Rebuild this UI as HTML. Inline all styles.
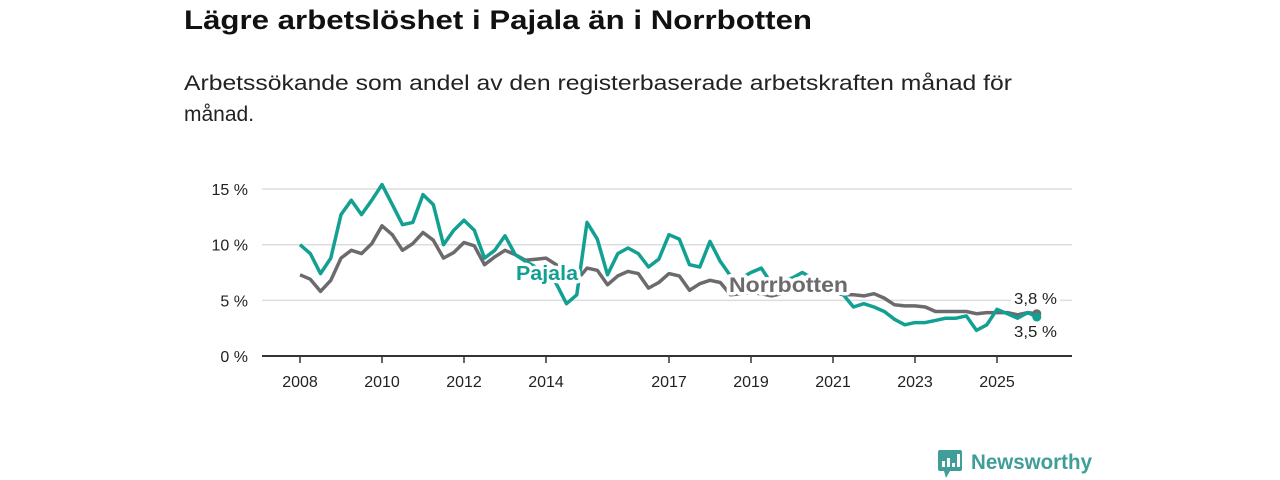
<!DOCTYPE html>
<html><head><meta charset="utf-8"><style>
html,body{margin:0;padding:0;background:#fff;}
svg{display:block;font-family:"Liberation Sans",sans-serif;}
</style></head><body>
<svg id="chart" width="1280" height="480" viewBox="0 0 1280 480" xmlns="http://www.w3.org/2000/svg">
<text x="184" y="29" font-size="27" font-weight="bold" fill="#111" textLength="628" lengthAdjust="spacingAndGlyphs">Lägre arbetslöshet i Pajala än i Norrbotten</text>
<text x="184" y="90" font-size="21" fill="#222" textLength="828" lengthAdjust="spacingAndGlyphs">Arbetssökande som andel av den registerbaserade arbetskraften månad för</text>
<text x="184" y="121" font-size="21" fill="#222">månad.</text>
<g id="grid"></g><g id="xaxis"></g><g id="series"></g><g id="labels"></g>
<g>
<rect x="938" y="450" width="24" height="21" rx="2" fill="#3f9e97"/>
<polygon points="944,471 950,471 946,478" fill="#3f9e97"/>
<rect x="942" y="461" width="3" height="6" fill="#fff"/><rect x="947" y="458" width="3" height="9" fill="#fff"/><rect x="952" y="463" width="3" height="4" fill="#fff"/><rect x="957" y="454" width="3" height="13" fill="#fff"/>
<text x="971" y="469" font-size="21" font-weight="bold" fill="#3f9e97" textLength="121" lengthAdjust="spacingAndGlyphs">Newsworthy</text>
</g>
</svg>
<script>
const dates=[];for(let i=0;i<72;i++)dates.push(2008+i*0.25);dates.push(2025.97);
const pajala=[10.0,9.2,7.4,8.8, 12.7,14.0,12.7,14.0, 15.4,13.6,11.8,12.0, 14.5,13.6,10.0,11.3, 12.2,11.3,8.8,9.5, 10.8,9.1,8.5,8.0, 7.5,6.5,4.7,5.5, 12.0,10.5,7.3,9.2, 9.7,9.2,8.0,8.7, 10.9,10.5,8.2,8.0, 10.3,8.5,7.2,7.0, 7.5,7.9,6.5,6.8, 7.0,7.5,7.0,6.5, 6.2,5.5,4.4,4.7, 4.4,4.0,3.3,2.8, 3.0,3.0,3.2,3.4, 3.4,3.6,2.3,2.8, 4.2,3.8,3.4,3.9, 3.5];
const norrbotten=[7.3,6.9,5.8,6.8, 8.8,9.5,9.2,10.1, 11.7,10.9,9.5,10.1, 11.1,10.4,8.8,9.3, 10.2,9.9,8.2,8.9, 9.5,9.1,8.6,8.7, 8.8,8.2,7.5,6.8, 7.9,7.7,6.4,7.2, 7.6,7.4,6.1,6.6, 7.4,7.2,5.9,6.5, 6.8,6.6,5.5,5.6, 5.7,5.6,5.4,5.6, 5.9,5.9,5.8,5.7, 5.7,5.5,5.5,5.4, 5.6,5.2,4.6,4.5, 4.5,4.4,4.0,4.0, 4.0,4.0,3.8,3.9, 3.9,3.9,3.7,3.9, 3.8];
const yTicks=[0,5,10,15];
const xTicks=[2008,2010,2012,2014,2017,2019,2021,2023,2025];
const NS="http://www.w3.org/2000/svg";
const X=t=>300+(t-2008)*41;
const Y=v=>356-v*11.13;
function mk(tag,attrs,parent,txt){const e=document.createElementNS(NS,tag);for(const k in attrs)e.setAttribute(k,attrs[k]);if(txt!==undefined)e.textContent=txt;parent.appendChild(e);return e;}
const grid=document.getElementById('grid'),xa=document.getElementById('xaxis'),ser=document.getElementById('series'),lab=document.getElementById('labels');
yTicks.forEach(v=>{
 const l=mk('line',{x1:262,x2:1072,y1:Y(v),y2:Y(v),stroke:v===0?'#333':'#ddd','stroke-width':v===0?2:1.5},grid);
 
 
 const t=mk('text',{x:248,y:Y(v)+6,'font-size':16,fill:'#222','text-anchor':'end'},grid,v+' %');
 
 
});
xTicks.forEach(yr=>{
 const l=mk('line',{x1:X(yr),x2:X(yr),y1:357,y2:363,stroke:'#333','stroke-width':1.5},xa);
 
 
 const t=mk('text',{x:X(yr),y:387,'font-size':16,fill:'#222','text-anchor':'middle'},xa,String(yr));
 
 
});
function path(vals){return vals.map((v,i)=>(i?'L':'M')+X(dates[i]).toFixed(1)+','+Y(v).toFixed(1)).join('');}
const pn=mk('path',{d:path(norrbotten),fill:'none',stroke:'#6d6a6d','stroke-width':3.5,'stroke-linejoin':'round'},ser);


const pp=mk('path',{d:path(pajala),fill:'none',stroke:'#12a092','stroke-width':3.5,'stroke-linejoin':'round'},ser);


const n=dates.length-1;
const d1=mk('circle',{cx:X(dates[n]),cy:Y(norrbotten[n]),r:4.5,fill:'#6d6a6d'},ser);


const d2=mk('circle',{cx:X(dates[n]),cy:Y(pajala[n]),r:4.5,fill:'#12a092'},ser);


const halo={stroke:'#fff','stroke-width':7,'paint-order':'stroke','stroke-linejoin':'round',lengthAdjust:'spacingAndGlyphs'};
const lp=mk('text',Object.assign({x:516,y:280,'font-size':20,'font-weight':'bold',fill:'#12a092',textLength:62},halo),lab,'Pajala');


const ln=mk('text',Object.assign({x:729,y:292,'font-size':21,'font-weight':'bold',fill:'#6d6a6d',textLength:119},halo),lab,'Norrbotten');


const v1=mk('text',Object.assign({x:1014,y:304,'font-size':16,fill:'#222',textLength:43},halo),lab,norrbotten[n].toFixed(1).replace('.',',')+' %');


const v2=mk('text',Object.assign({x:1014,y:337,'font-size':16,fill:'#222',textLength:43},halo),lab,pajala[n].toFixed(1).replace('.',',')+' %');


</script>
</body></html>
